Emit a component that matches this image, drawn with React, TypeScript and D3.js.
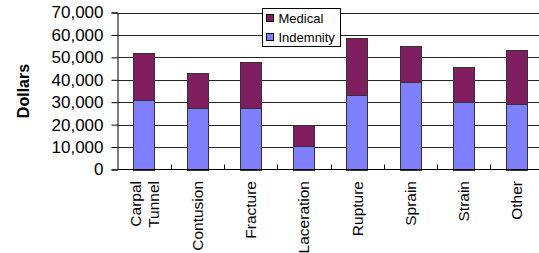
import React, { useEffect, useRef } from 'react';
import * as d3 from 'd3';

const categories: string[][] = [
    ['Carpal', 'Tunnel'],
    ['Contusion'],
    ['Fracture'],
    ['Laceration'],
    ['Rupture'],
    ['Sprain'],
    ['Strain'],
    ['Other']
];
const indemnity = [31200, 27200, 27200, 10600, 33400, 38800, 30200, 29400];
const medical = [20900, 15700, 20600, 9400, 25400, 16400, 15300, 24000];
const yTicks = [0, 10000, 20000, 30000, 40000, 50000, 60000, 70000];
const seriesNames = ['Medical', 'Indemnity'];
const seriesColors = ['#7f1f5f', '#8080ff'];

const App: React.FC = () => {
    const svgRef = useRef<SVGSVGElement>(null);
    const width = 539;
    const height = 253;

    useEffect(() => {
        if (!svgRef.current) return;
        const svg = d3.select(svgRef.current);
        svg.selectAll('*').remove();

        const left = 117.5;
        const right = 543.5;
        const top = 12.5;
        const bottom = 169.5;
        const font = 'Arial, "Liberation Sans", sans-serif';

        const keys = categories.map(c => c.join(' '));
        const x = d3.scaleBand()
            .domain(keys)
            .range([left, right])
            .paddingInner(0.6)
            .paddingOuter(0.3);
        const band = d3.scaleBand().domain(keys).range([left, right]);

        const y = d3.scaleLinear()
            .domain([0, 70000])
            .range([bottom, top]);

        // gridlines
        svg.append('g')
            .selectAll('line')
            .data(yTicks.slice(1))
            .join('line')
            .attr('x1', left)
            .attr('x2', right)
            .attr('y1', d => Math.round(y(d)) + 0.5)
            .attr('y2', d => Math.round(y(d)) + 0.5)
            .attr('stroke', '#222')
            .attr('stroke-width', 1);

        // stacked bars
        const g = svg.append('g');
        keys.forEach((k, i) => {
            const xPos = x(k) ?? 0;
            const ind = indemnity[i];
            const med = medical[i];
            g.append('rect')
                .attr('x', Math.round(xPos) + 0.5)
                .attr('y', Math.round(y(ind)) + 0.5)
                .attr('width', Math.round(x.bandwidth()))
                .attr('height', Math.round(y(0)) - Math.round(y(ind)))
                .attr('fill', seriesColors[1])
                .attr('stroke', '#333')
                .attr('stroke-width', 1);
            g.append('rect')
                .attr('x', Math.round(xPos) + 0.5)
                .attr('y', Math.round(y(ind + med)) + 0.5)
                .attr('width', Math.round(x.bandwidth()))
                .attr('height', Math.round(y(ind)) - Math.round(y(ind + med)))
                .attr('fill', seriesColors[0])
                .attr('stroke', '#333')
                .attr('stroke-width', 1);
        });

        // y axis
        const yAxis = svg.append('g')
            .attr('transform', `translate(${left},0)`)
            .call(d3.axisLeft(y).tickValues(yTicks).tickSize(6).tickPadding(8)
                .tickFormat(d => d3.format(',')(d as number)));
        yAxis.select('.domain').attr('stroke', '#000');
        yAxis.selectAll('.tick line').attr('stroke', '#000');
        yAxis.selectAll('.tick text')
            .attr('font-family', font)
            .attr('font-size', 17)
            .attr('fill', '#000');

        // x axis line and category ticks
        svg.append('line')
            .attr('x1', left).attr('x2', right)
            .attr('y1', bottom).attr('y2', bottom)
            .attr('stroke', '#000');
        svg.append('g')
            .selectAll('line')
            .data(keys.slice(1))
            .join('line')
            .attr('x1', d => Math.round(band(d) ?? 0) + 0.5)
            .attr('x2', d => Math.round(band(d) ?? 0) + 0.5)
            .attr('y1', bottom)
            .attr('y2', bottom - 5)
            .attr('stroke', '#000');

        // category labels
        keys.forEach((k, i) => {
            const cx = (band(k) ?? 0) + band.bandwidth() / 2;
            const lines = categories[i];
            const lh = 18;
            lines.forEach((line, j) => {
                const dx = (j - (lines.length - 1) / 2) * lh;
                svg.append('text')
                    .attr('transform', `translate(${cx + dx + 5.5},181) rotate(-90)`)
                    .attr('text-anchor', 'end')
                    .attr('font-family', font)
                    .attr('font-size', 15.5)
                    .attr('fill', '#000')
                    .text(line);
            });
        });

        // y title
        svg.append('text')
            .attr('transform', `translate(29,${(top + bottom) / 2}) rotate(-90)`)
            .attr('text-anchor', 'middle')
            .attr('font-family', font)
            .attr('font-size', 16)
            .attr('font-weight', 'bold')
            .attr('fill', '#000')
            .text('Dollars');

        // legend
        const lg = svg.append('g').attr('transform', 'translate(262.5,8.5)');
        lg.append('rect')
            .attr('width', 78)
            .attr('height', 38)
            .attr('fill', '#fff')
            .attr('stroke', '#000');
        seriesNames.forEach((name, i) => {
            lg.append('rect')
                .attr('x', 4)
                .attr('y', 6 + i * 19)
                .attr('width', 7)
                .attr('height', 7)
                .attr('fill', seriesColors[i])
                .attr('stroke', '#000');
            lg.append('text')
                .attr('x', 16)
                .attr('y', 14 + i * 19)
                .attr('font-family', font)
                .attr('font-size', 13)
                .attr('fill', '#000')
                .text(name);
        });
    }, []);

    return (
        <svg
            ref={svgRef}
            width={width}
            height={height}
            style={{ position: 'absolute', left: 0, top: 0, background: '#fff' }}
        />
    );
};

export default App;
